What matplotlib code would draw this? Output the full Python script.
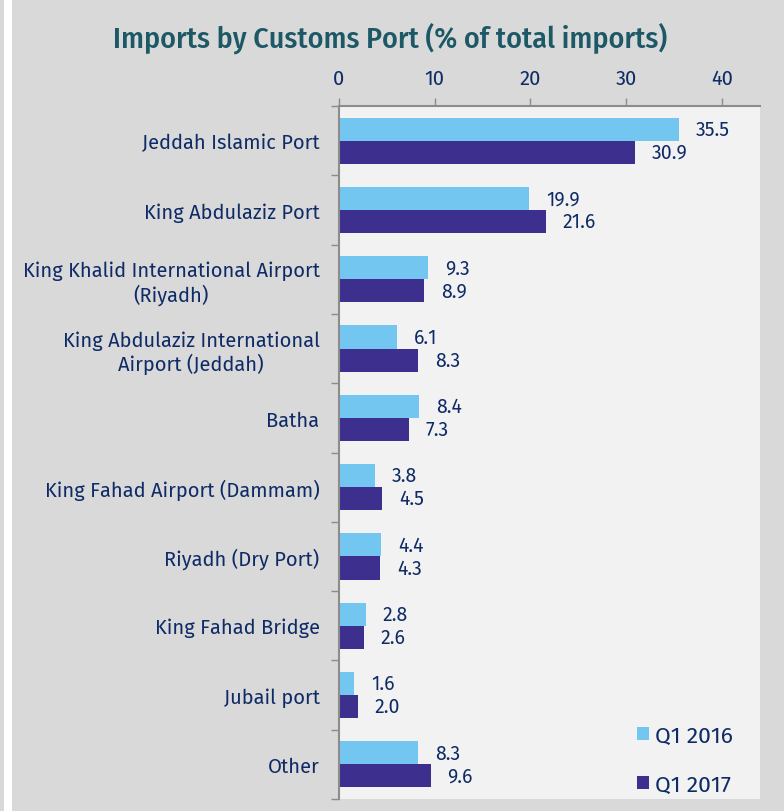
import matplotlib
matplotlib.use("Agg")
import matplotlib.pyplot as plt
from matplotlib.patches import Rectangle
import numpy as np

categories = ["Jeddah Islamic Port", "King Abdulaziz Port",
              "King Khalid International Airport\n(Riyadh)",
              "King Abdulaziz International\nAirport (Jeddah)",
              "Batha", "King Fahad Airport (Dammam)", "Riyadh (Dry Port)",
              "King Fahad Bridge", "Jubail port", "Other"]
q1_2016 = [35.5, 19.9, 9.3, 6.1, 8.4, 3.8, 4.4, 2.8, 1.6, 8.3]
q1_2017 = [30.9, 21.6, 8.9, 8.3, 7.3, 4.5, 4.3, 2.6, 2.0, 9.6]
series_names = ["Q1 2016", "Q1 2017"]
xticks = [0, 10, 20, 30, 40]

c16 = "#73C6F0"
c17 = "#3C2F8E"
txt = "#0F2B66"
title_c = "#1D5866"
fig_bg = "#D9D9D9"
ax_bg = "#F2F2F2"
spine_c = "#8C8C8C"
FONT = "Fira Sans"

W, H = 784, 812
fig = plt.figure(figsize=(W/100, H/100), dpi=100)
fig.patch.set_facecolor(fig_bg)
fig.patches.append(Rectangle((4/W, 0), 8/W, 1, transform=fig.transFigure,
                             facecolor="white", edgecolor="none", zorder=0))

left, right, top, bottom = 339, 760, 107, 800
ax = fig.add_axes([left/W, 1-bottom/H, (right-left)/W, (bottom-top)/H])
ax.set_facecolor(ax_bg)

n = len(categories)
y = np.arange(n)
h = 0.333
ax.barh(y - h/2, q1_2016, height=h, color=c16, label=series_names[0])
ax.barh(y + h/2, q1_2017, height=h, color=c17, label=series_names[1])

off = 1.75
for yi, v in zip(y, q1_2016):
    ax.text(v + off, yi - h/2, f"{v:.1f}", va="center", ha="left",
            color=txt, fontsize=14, family=FONT)
for yi, v in zip(y, q1_2017):
    ax.text(v + off, yi + h/2, f"{v:.1f}", va="center", ha="left",
            color=txt, fontsize=14, family=FONT)

ax.set_xlim(0, 44)
ax.set_ylim(n - 0.5, -0.5)
ax.xaxis.tick_top()
ax.set_xticks(xticks)
ax.set_xticklabels([str(t) for t in xticks], color=txt, fontsize=14.5, family=FONT)
ax.tick_params(axis="x", direction="out", length=6, width=1, color=spine_c, pad=7)

ax.set_yticks(y)
ax.set_yticklabels(categories, color=txt, fontsize=14.5, family=FONT,
                   ha="right", multialignment="center", linespacing=1.15)
ax.tick_params(axis="y", which="major", length=0, pad=14)
ax.set_yticks(np.arange(n + 1) - 0.5, minor=True)
ax.tick_params(axis="y", which="minor", direction="out", length=6, width=1, color=spine_c)

for s in ["right", "bottom"]:
    ax.spines[s].set_visible(False)
for s in ["left", "top"]:
    ax.spines[s].set_color(spine_c)
    ax.spines[s].set_linewidth(1.5)

leg = ax.legend(loc="lower right", frameon=False,
                handlelength=0.55, handleheight=0.55, handletextpad=0.25,
                labelspacing=1.2, bbox_to_anchor=(0.985, -0.024),
                prop={"family": FONT, "size": 16.5})
for t in leg.get_texts():
    t.set_color(txt)

fig.text(390/W, 1 - 38/H, "Imports by Customs Port (% of total imports)",
         ha="center", va="center", color=title_c, fontsize=21.5,
         family="Fira Sans Condensed", fontweight="medium")

fig.savefig("out.png", dpi=100, facecolor=fig.get_facecolor())
